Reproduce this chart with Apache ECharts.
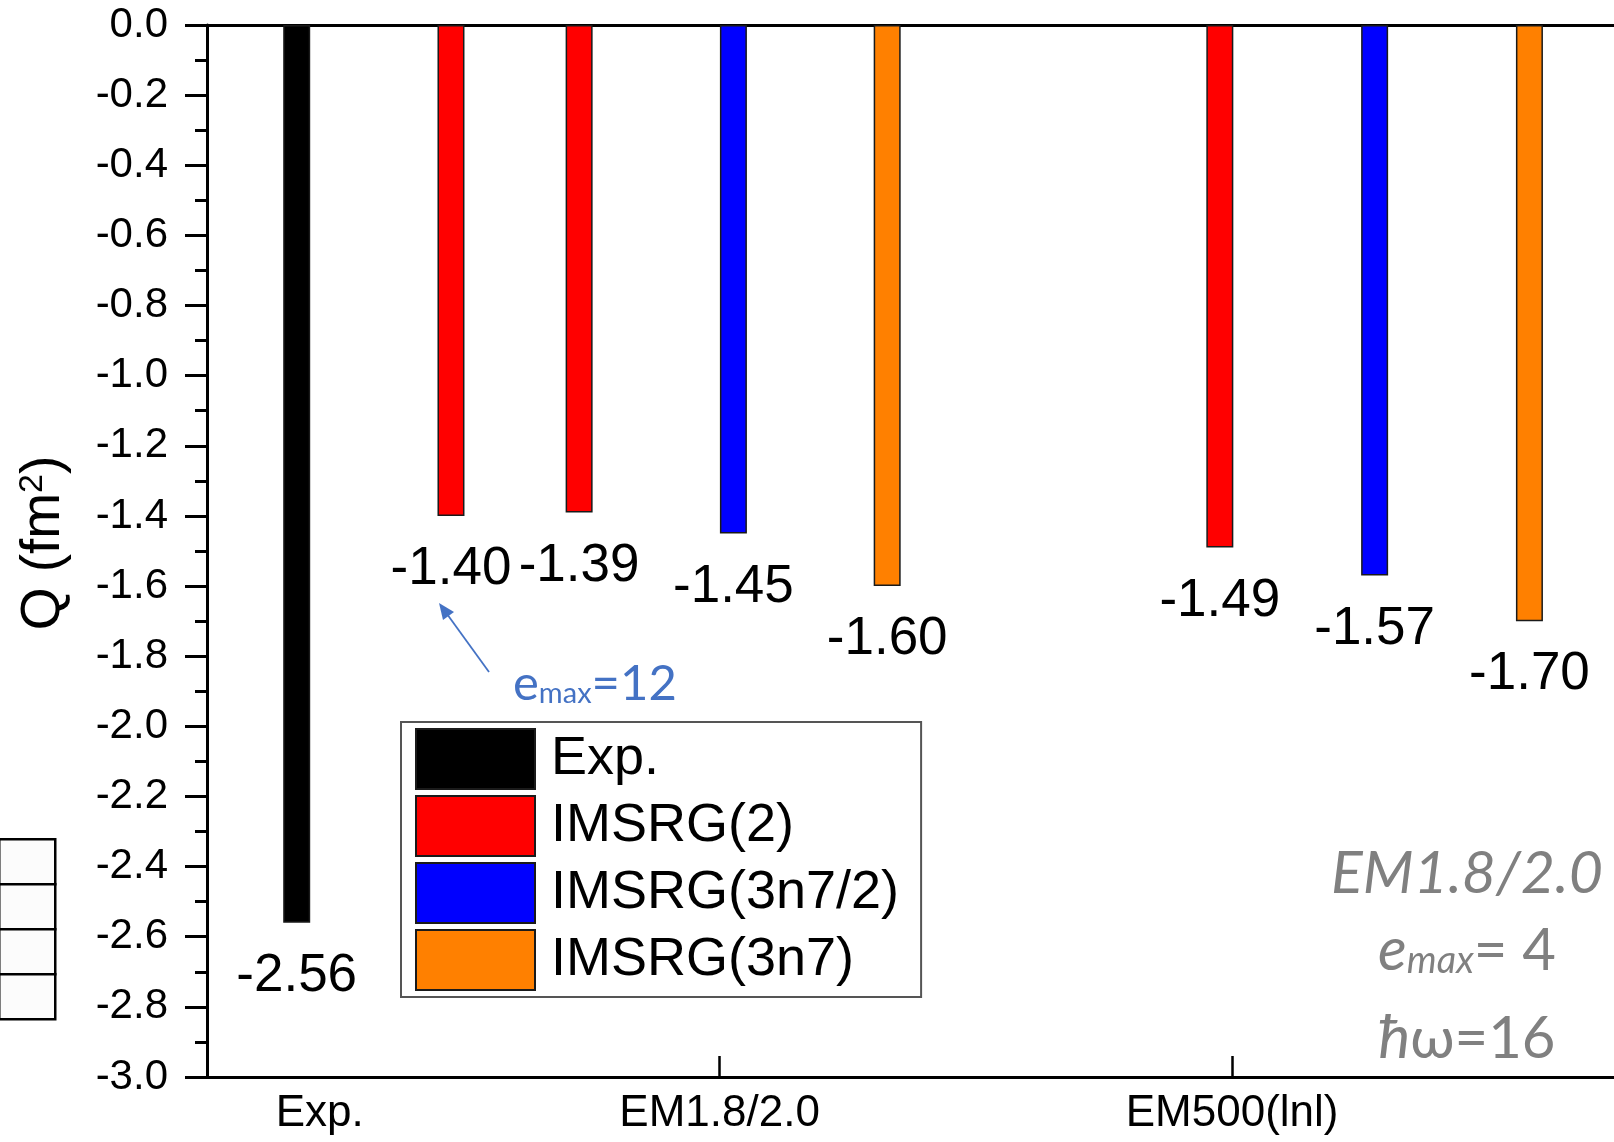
<!DOCTYPE html>
<html>
<head>
<meta charset="utf-8">
<script src="https://cdn.jsdelivr.net/npm/echarts@6.0.0/dist/echarts.min.js"></script>
<style>
  html, body { margin: 0; padding: 0; background: #fff; }
  #main { width: 1614px; height: 1142px; }
</style>
</head>
<body>
<div id="main"></div>
<script>
// bar positions are x-axis values, Q in fm^2
const seriesNames = ['Exp.', 'IMSRG(2)', 'IMSRG(3n7/2)', 'IMSRG(3n7)'];
const expX = [0.175];
const expQ = [-2.56];
const imsrg2X = [0.476, 0.726, 1.976];
const imsrg2Q = [-1.40, -1.39, -1.49];
const imsrg3n7halfX = [1.027, 2.278];
const imsrg3n7halfQ = [-1.45, -1.57];
const imsrg3n7X = [1.327, 2.58];
const imsrg3n7Q = [-1.60, -1.70];

// x axis group labels and ticks
const groupNames = ['Exp.', 'EM1.8/2.0', 'EM500(lnl)'];
const groupLabelAt = [0.22, 1, 2];
const groupTicks = [1, 2];

// y axis
const yMin = -3.0;
const yMax = 0.0;
const yStep = 0.2;

const chart = echarts.init(document.getElementById('main'), null, { renderer: 'canvas' });

function pairs(xs, ys) {
  return xs.map(function (x, i) { return [x, ys[i]]; });
}

const FONT = 'Liberation Sans';

function barSeries(name, color, xs, ys) {
  return {
    name: name,
    type: 'bar',
    barWidth: 27,
    barGap: '-100%',
    data: pairs(xs, ys),
    itemStyle: { color: color, borderColor: '#1a1a1a', borderWidth: 1.5 },
    label: {
      show: true,
      position: 'bottom',
      distance: 27,
      fontFamily: FONT,
      fontSize: 53,
      color: '#000',
      formatter: function (p) { return p.value[1].toFixed(2); }
    },
    animation: false
  };
}

const option = {
  backgroundColor: '#fff',
  animation: false,
  grid: { left: 207, top: 25, right: 0, bottom: 65 },
  legend: {
    orient: 'vertical',
    left: 401,
    top: 722,
    data: seriesNames,
    icon: 'rect',
    itemWidth: 119,
    itemHeight: 60,
    itemGap: 5,
    padding: [6, 22, 6, 14],
    borderColor: '#555',
    borderWidth: 2,
    backgroundColor: '#fff',
    textStyle: { fontFamily: FONT, fontSize: 54, lineHeight: 56, color: '#000', padding: [0, 0, 0, 11] }
  },
  xAxis: [{
    type: 'value',
    min: 0,
    max: 2.745,
    position: 'bottom',
    splitLine: { show: false },
    axisLine: { show: true, onZero: false, lineStyle: { color: '#000', width: 3 } },
    axisTick: { show: true, inside: true, length: 21, customValues: groupTicks, lineStyle: { color: '#000', width: 2.5 } },
    axisLabel: {
      customValues: groupLabelAt,
      margin: 15,
      fontFamily: FONT,
      fontSize: 44,
      color: '#000',
      formatter: function (v) {
        for (let i = 0; i < groupLabelAt.length; i++) {
          if (Math.abs(groupLabelAt[i] - v) < 1e-6) return groupNames[i];
        }
        return '';
      }
    }
  }, {
    type: 'value',
    min: 0,
    max: 2.745,
    position: 'top',
    splitLine: { show: false },
    axisLine: { show: true, onZero: false, lineStyle: { color: '#000', width: 3 } },
    axisTick: { show: false },
    axisLabel: { show: false }
  }],
  yAxis: {
    type: 'value',
    min: yMin,
    max: yMax,
    interval: yStep,
    name: 'Q (fm{sup|2})',
    nameLocation: 'middle',
    nameRotate: 90,
    nameGap: 136,
    nameTextStyle: {
      fontFamily: FONT,
      fontSize: 55,
      color: '#000',
      padding: [0, 0, 0, 16],
      rich: {
        sup: { fontFamily: FONT, fontSize: 34, color: '#000', verticalAlign: 'top', lineHeight: 28 }
      }
    },
    splitLine: { show: false },
    axisLine: { show: true, onZero: false, lineStyle: { color: '#000', width: 3 } },
    axisTick: { show: true, length: 22, lineStyle: { color: '#000', width: 3 } },
    minorTick: { show: true, splitNumber: 2, length: 12, lineStyle: { color: '#000', width: 3 } },
    axisLabel: {
      margin: 39,
      fontFamily: FONT,
      fontSize: 42,
      color: '#000',
      formatter: function (v) { return v.toFixed(1); }
    }
  },
  series: [
    barSeries(seriesNames[0], '#000000', expX, expQ),
    barSeries(seriesNames[1], '#ff0000', imsrg2X, imsrg2Q),
    barSeries(seriesNames[2], '#0000ff', imsrg3n7halfX, imsrg3n7halfQ),
    barSeries(seriesNames[3], '#ff8000', imsrg3n7X, imsrg3n7Q)
  ],
  graphic: [
    // cropped box at the left edge
    { type: 'rect', left: -2, top: 838, shape: { width: 56, height: 45 }, style: { fill: '#fcfcfc', stroke: '#000', lineWidth: 2.5 } },
    { type: 'rect', left: -2, top: 883, shape: { width: 56, height: 45 }, style: { fill: '#fcfcfc', stroke: '#000', lineWidth: 2.5 } },
    { type: 'rect', left: -2, top: 928, shape: { width: 56, height: 45 }, style: { fill: '#fcfcfc', stroke: '#000', lineWidth: 2.5 } },
    { type: 'rect', left: -2, top: 973, shape: { width: 56, height: 45 }, style: { fill: '#fcfcfc', stroke: '#000', lineWidth: 2.5 } },
    // e_max = 12 arrow
    { type: 'line', shape: { x1: 489, y1: 672, x2: 447, y2: 614 }, style: { stroke: '#4472c4', lineWidth: 1.8 } },
    { type: 'polygon', shape: { points: [[439, 603], [454, 612], [443, 620]] }, style: { fill: '#4472c4' } },
    {
      type: 'text', x: 513, y: 708,
      style: {
        text: '{m|e}{s|max}{m|=12}',
        textVerticalAlign: 'bottom',
        fill: '#4472c4',
        rich: {
          m: { fontFamily: 'Lato', fontSize: 49, fill: '#4472c4', lineHeight: 48 },
          s: { fontFamily: 'Lato', fontSize: 29, fill: '#4472c4', lineHeight: 20, verticalAlign: 'bottom' }
        }
      }
    },
    // gray annotation
    {
      type: 'text', x: 1467, y: 903,
      style: {
        text: 'EM1.8/2.0', textAlign: 'center', textVerticalAlign: 'bottom',
        fontFamily: 'Lato', fontStyle: 'italic', fontSize: 59, fill: '#808080'
      }
    },
    {
      type: 'text', x: 1467, y: 980,
      style: {
        text: '{e|e}{s|max}{n|= 4}', textAlign: 'center', textVerticalAlign: 'bottom',
        fill: '#808080',
        rich: {
          e: { fontFamily: 'Lato', fontStyle: 'italic', fontSize: 60, fill: '#808080', lineHeight: 58 },
          s: { fontFamily: 'Lato', fontStyle: 'italic', fontSize: 38, fill: '#808080', lineHeight: 16, verticalAlign: 'bottom' },
          n: { fontFamily: 'Lato', fontSize: 58, fill: '#808080', lineHeight: 58 }
        }
      }
    },
    {
      type: 'text', x: 1467, y: 1068,
      style: {
        text: '{h|ħ}{n|ω=16}', textAlign: 'center', textVerticalAlign: 'bottom',
        fill: '#808080',
        rich: {
          h: { fontFamily: 'Lato', fontStyle: 'italic', fontSize: 60, fill: '#808080', lineHeight: 58 },
          n: { fontFamily: 'Lato', fontSize: 58, fill: '#808080', lineHeight: 58 }
        }
      }
    }
  ]
};

chart.setOption(option);
</script>
</body>
</html>
